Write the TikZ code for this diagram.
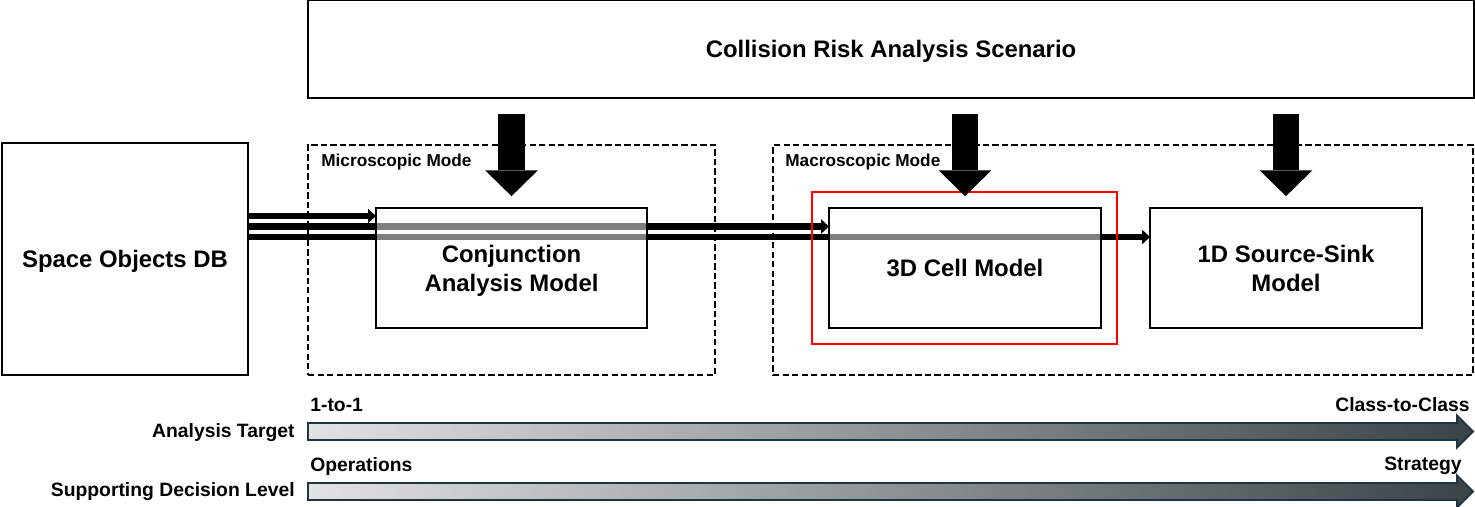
\documentclass[tikz,border=0pt]{standalone}
\usepackage{fontspec}
\setmainfont{Liberation Sans}
\usetikzlibrary{arrows.meta}
\definecolor{barborder}{HTML}{1E3442}
\definecolor{barlight}{HTML}{E0E2E3}
\definecolor{bardark}{HTML}{3A4348}
\tikzset{
  box/.style={draw=black, line width=1.1pt, fill=white, fill opacity=0.5, text opacity=1, inner sep=0pt, align=center, text depth=0pt, font=\fontsize{13.6}{16.5}\selectfont\bfseries},
  modebox/.style={draw=black, line width=1.1pt, dash pattern=on 3.6pt off 1.8pt, inner sep=0pt},
  modelabel/.style={font=\fontsize{9.8}{11}\selectfont\bfseries, inner sep=0pt, anchor=west},
  feed/.style={line width=3.5pt, -{Triangle[length=4.5pt,width=8pt]}},
  bigarr/.style={line width=15.3pt, -{Triangle[length=14.7pt,width=30pt,line width=0pt]}, shorten <=8.5pt, shorten >=6.2pt},
  scalebar/.style={draw=barborder, line width=1pt, left color=barlight, right color=bardark},
  scalelabel/.style={font=\fontsize{11}{13}\selectfont\bfseries, inner sep=0pt},
}
\begin{document}
\begin{tikzpicture}[x=0.02cm, y=-0.02cm]
\useasboundingbox (0,0) rectangle (1475,507);
% nodes
\node[box, minimum width=23.32cm, minimum height=1.96cm, fill opacity=1] (scen) at (891,49) {Collision Risk Analysis Scenario};
\node[box, minimum width=4.92cm, minimum height=4.64cm, fill opacity=1] (db) at (125,259) {Space Objects DB};
\node[modebox, minimum width=8.14cm, minimum height=4.6cm] (micro) at (511.5,260) {};
\node[modebox, minimum width=14cm, minimum height=4.6cm] (macro) at (1123,260) {};
\node[modelabel] (microlbl) at (321,162) {Microscopic Mode};
\node[modelabel] (macrolbl) at (785,162) {Macroscopic Mode};
% feed lines (drawn before the model boxes)
\coordinate (ya) at (0,216);
\coordinate (yb) at (0,226.5);
\coordinate (yc) at (0,237);
\coordinate (conjW) at (376,216);
\coordinate (cellW) at (829,226.5);
\coordinate (ssW) at (1150,237);
\draw[feed] (db.east |- ya) -- (conjW);
\draw[feed] (db.east |- yb) -- (cellW);
\draw[feed] (db.east |- yc) -- (ssW);
% model boxes
\node[box, minimum width=5.42cm, minimum height=2.4cm] (conj) at (511.5,268) {Conjunction\\Analysis Model};
\node[box, minimum width=5.44cm, minimum height=2.4cm] (cell) at (965,268) {3D Cell Model};
\node[box, minimum width=5.44cm, minimum height=2.4cm] (ss) at (1286,268) {1D Source-Sink\\Model};
\node[draw=red, line width=1.2pt, minimum width=6.1cm, minimum height=3.04cm, inner sep=0pt] (focus) at (964.5,268) {};
% big arrows
\draw[bigarr] (scen.south -| conj.north) -- (conj.north);
\draw[bigarr] (scen.south -| cell.north) -- (cell.north);
\draw[bigarr] (scen.south -| ss.north) -- (ss.north);
% scale bars
\path[scalebar] (308,423) -- (1457,423) -- (1457,415.5) -- (1473,431.5) -- (1457,447.5) -- (1457,440) -- (308,440) -- cycle;
\path[scalebar] (308,483) -- (1457,483) -- (1457,475.5) -- (1473,491.5) -- (1457,507.5) -- (1457,500) -- (308,500) -- cycle;
\node[scalelabel, anchor=east] (tgt) at (295,432.5) {Analysis Target};
\node[scalelabel, anchor=east] (dec) at (295,492) {Supporting Decision Level};
\node[scalelabel, anchor=west] (one) at (310,405) {1-to-1};
\node[scalelabel, anchor=east] (cls) at (1470,405) {Class-to-Class};
\node[scalelabel, anchor=west] (ops) at (310,466.5) {Operations};
\node[scalelabel, anchor=east] (str) at (1462,466) {Strategy};
\end{tikzpicture}
\end{document}
